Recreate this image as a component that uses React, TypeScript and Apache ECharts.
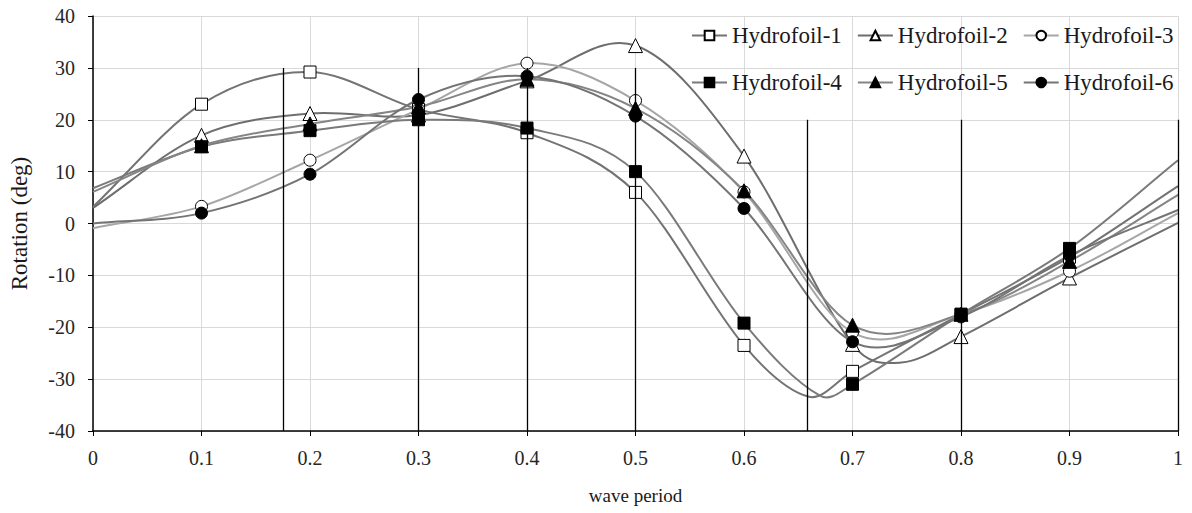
import React, { useEffect, useRef } from "react";
import * as echarts from "echarts";

const xValues = [0, 0.1, 0.2, 0.3, 0.4, 0.5, 0.6, 0.7, 0.8, 0.9, 1];
const h1 = [3.2, 23, 29.2, 22, 17.5, 6, -23.5, -28.5, -17.5, -6.5, 7.2];
const h2 = [3.0, 17, 21.2, 20.9, 27.5, 34.3, 13, -23.3, -21.8, -10.5, 0.1];
const h3 = [-0.9, 3.3, 12.2, 22, 30.9, 23.7, 6.1, -21, -17.5, -9.2, 2.0];
const h4 = [6.8, 14.8, 17.9, 20, 18.4, 10, -19.2, -31, -17.5, -4.8, 12.2];
const h5 = [6.1, 15, 19.2, 22.5, 27.8, 22.2, 6.3, -19.6, -17.5, -7.3, 5.5];
const h6 = [0, 2, 9.5, 23.9, 28.4, 20.7, 2.9, -22.8, -18, -6.2, 2.6];

// extra curve points (no markers) read from the curves' troughs
const h1Trough = [[0.66, -33.4]];
const h2Trough = [[0.745, -26.8]];
const h3Trough: number[][] = [];
const h4Trough = [[0.67, -33.2]];
const h5Trough: number[][] = [];
const h6Trough: number[][] = [];

const seriesNames = [
  "Hydrofoil-1",
  "Hydrofoil-2",
  "Hydrofoil-3",
  "Hydrofoil-4",
  "Hydrofoil-5",
  "Hydrofoil-6",
];
const seriesValues = [h1, h2, h3, h4, h5, h6];
const seriesTroughs = [h1Trough, h2Trough, h3Trough, h4Trough, h5Trough, h6Trough];

// vertical reference lines (wave period positions) and their top values
const markX = [0.175, 0.3, 0.4, 0.5, 0.658, 0.8, 1.0];
const markTop = [30, 30, 30, 30, 20, 20, 20];

const yMin = -40;
const yMax = 40;

const FONT = "'Liberation Serif', 'Times New Roman', serif";

const symbols = ["rect", "triangle", "circle", "rect", "triangle", "circle"];
const symbolSizes = [12, 14, 12, 12, 14, 12];
const filled = [false, false, false, true, true, true];
const lineColors = ["#737373", "#6e6e6e", "#a6a6a6", "#7a7a7a", "#858585", "#747474"];

// smoothed curve through the points (cubic Hermite, finite-difference slopes)
function smoothPath(pts: number[][]): string {
  const n = pts.length;
  if (!n) return "";
  const slope: number[] = pts.map((p, i) => {
    const a = pts[Math.max(0, i - 1)];
    const b = pts[Math.min(n - 1, i + 1)];
    return (b[1] - a[1]) / (b[0] - a[0]);
  });
  let d = `M${pts[0][0]},${pts[0][1]}`;
  for (let i = 0; i < n - 1; i++) {
    const p1 = pts[i];
    const p2 = pts[i + 1];
    const h = (p2[0] - p1[0]) / 3;
    const c1x = p1[0] + h;
    const c1y = p1[1] + slope[i] * h;
    const c2x = p2[0] - h;
    const c2y = p2[1] - slope[i + 1] * h;
    d += ` C${c1x},${c1y} ${c2x},${c2y} ${p2[0]},${p2[1]}`;
  }
  return d;
}

export default function App() {
  const ref = useRef<HTMLDivElement>(null);

  useEffect(() => {
    if (!ref.current) return;
    const chart = echarts.init(ref.current, undefined, { renderer: "svg" });

    const series: any[] = [];

    // curves (custom series, drawn through the axes' scales)
    seriesValues.forEach((vals, i) => {
      const knots = xValues
        .map((x, j) => [x, vals[j]])
        .concat(seriesTroughs[i])
        .sort((a, b) => a[0] - b[0]);
      series.push({
        name: seriesNames[i] + " curve",
        type: "custom",
        silent: true,
        z: 2,
        encode: { x: 0, y: 1 },
        data: knots,
        renderItem: (params: any, api: any) => {
          if (params.dataIndex !== 0) return null;
          const pts = knots.map((k) => api.coord(k));
          return {
            type: "path",
            shape: { pathData: smoothPath(pts) },
            style: { fill: "none", stroke: lineColors[i], lineWidth: 2 },
          };
        },
      });
    });

    // markers + legend entries
    seriesNames.forEach((name, i) => {
      series.push({
        name,
        type: "line",
        symbol: symbols[i],
        symbolSize: symbolSizes[i],
        showAllSymbol: true,
        lineStyle: { color: lineColors[i], width: 2, opacity: 0 },
        itemStyle: {
          color: filled[i] ? "#000000" : "#ffffff",
          borderColor: "#000000",
          borderWidth: 1,
        },
        emphasis: { disabled: true },
        z: 4,
        data: xValues.map((x, j) => {
          const item: any = { value: [x, seriesValues[i][j]] };
          if (j === 0 || j === xValues.length - 1) item.symbol = "none";
          return item;
        }),
      });
    });

    series.push({
      name: "wave lines",
      type: "line",
      data: [[markX[0], yMin]],
      symbol: "none",
      lineStyle: { opacity: 0 },
      z: 3,
      markLine: {
        silent: true,
        symbol: ["none", "none"],
        animation: false,
        label: { show: false },
        lineStyle: { color: "#000000", width: 1.3, type: "solid" },
        data: markX.map((x, i) => [
          { coord: [x, yMin] },
          { coord: [x, markTop[i]] },
        ]),
      },
    });

    const legendItems = (names: string[], offset: number) =>
      names.map((n, k) => ({
        name: n,
        lineStyle: { color: lineColors[offset + k], width: 2, opacity: 1 },
      }));

    const legendCommon = {
      left: 686,
      orient: "horizontal",
      itemWidth: 35,
      itemHeight: 12,
      itemGap: 15,
      textStyle: {
        fontFamily: FONT,
        fontSize: 23,
        color: "#1a1a1a",
        width: 115,
      },
      selectedMode: false,
    };

    chart.setOption({
      animation: false,
      backgroundColor: "#ffffff",
      grid: { left: 92, right: 14, top: 16, bottom: 82 },
      legend: [
        { ...legendCommon, top: 19, data: legendItems(seriesNames.slice(0, 3), 0) },
        { ...legendCommon, top: 66, data: legendItems(seriesNames.slice(3, 6), 3) },
      ],
      xAxis: {
        type: "value",
        min: 0,
        max: 1,
        interval: 0.1,
        name: "wave period",
        nameLocation: "middle",
        nameGap: 55,
        nameTextStyle: { fontFamily: FONT, fontSize: 19, color: "#1a1a1a" },
        axisLine: { show: true, onZero: false, lineStyle: { color: "#000000", width: 1.5 } },
        axisTick: { show: true, length: 5, lineStyle: { color: "#000000" } },
        axisLabel: {
          fontFamily: FONT,
          fontSize: 20,
          color: "#262626",
          margin: 17,
        },
        splitLine: { show: true, lineStyle: { color: "#d9d9d9", width: 1 } },
      },
      yAxis: {
        type: "value",
        min: yMin,
        max: yMax,
        interval: 10,
        name: "Rotation (deg)",
        nameLocation: "middle",
        nameGap: 62,
        nameTextStyle: { fontFamily: FONT, fontSize: 23, color: "#1a1a1a" },
        axisLine: { show: true, onZero: false, lineStyle: { color: "#000000", width: 1.5 } },
        axisTick: { show: true, length: 5, lineStyle: { color: "#000000" } },
        axisLabel: {
          fontFamily: FONT,
          fontSize: 20,
          color: "#262626",
          margin: 18,
        },
        splitLine: { show: true, lineStyle: { color: "#d9d9d9", width: 1 } },
      },
      series,
    });

    return () => chart.dispose();
  }, []);

  return (
    <div
      ref={ref}
      style={{ position: "fixed", left: 0, top: 0, width: 1192, height: 513 }}
    />
  );
}
